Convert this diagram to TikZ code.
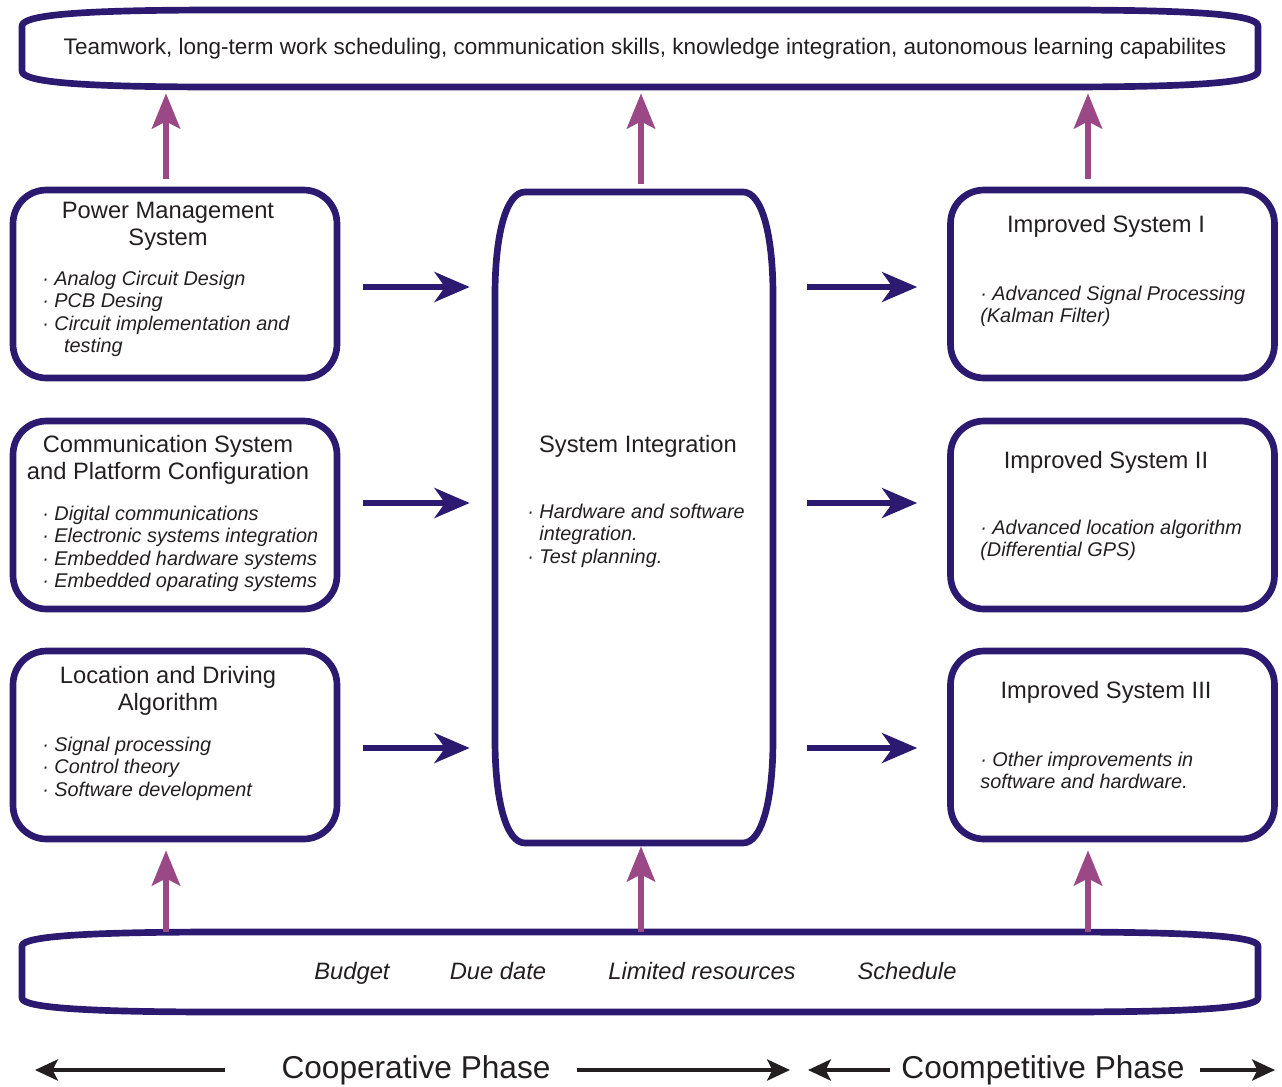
\documentclass[tikz,border=0pt]{standalone}
\usepackage{fontspec}
\setmainfont{Liberation Sans}
\definecolor{navyline}{HTML}{2C1A70}
\definecolor{plumarrow}{HTML}{9B4886}
\definecolor{inkgray}{HTML}{231F20}
\usetikzlibrary{arrows.meta, calc}

\begin{document}
\begin{tikzpicture}[x=0.02cm, y=-0.02cm,
    every node/.style={font=\fontsize{13.5}{15.3}\selectfont, text=inkgray, inner sep=0pt},
    box/.style={rectangle, draw=navyline, line width=3.8pt, rounded corners=19pt,
                minimum width=6.48cm, minimum height=3.76cm},
    frame/.style={draw=navyline, line width=3.8pt, line join=round},
    title/.style={align=center, anchor=base},
    items/.style={align=left, anchor=base west,
                  font=\fontsize{11.3}{12.75}\selectfont\itshape},
    limit/.style={anchor=base, font=\fontsize{13.5}{15.3}\selectfont\itshape},
    phasetext/.style={anchor=base, font=\fontsize{18}{20}\selectfont},
    sideways/.style={-{Stealth[length=20pt, width=17pt, inset=6pt]}, navyline, line width=3.4pt},
    upwards/.style={-{Stealth[length=20pt, width=16pt, inset=4pt]}, plumarrow, line width=3.2pt},
    phase/.style={-{Stealth[length=13pt, width=12pt, inset=3pt]}, inkgray, line width=2.3pt},
]
\useasboundingbox (0,0) rectangle (1282,1086);

% Skills bar on top, constraints bar at the bottom
\draw[frame] (22,26) .. controls (22,14) and (90,10) .. (220,10) -- (1060,10)
    .. controls (1190,10) and (1258,14) .. (1258,26) -- (1258,71)
    .. controls (1258,83) and (1190,87) .. (1060,87) -- (220,87)
    .. controls (90,87) and (22,83) .. (22,71) -- cycle;
\node[minimum width=24.72cm, minimum height=1.54cm, font=\fontsize{12.8}{15}\selectfont]
    (goals) at (645,48.5)
    {Teamwork, long-term work scheduling, communication skills, knowledge integration, autonomous learning capabilites};

\draw[frame] (22,946) .. controls (22,936) and (90,932) .. (220,932) -- (1060,932)
    .. controls (1190,932) and (1258,936) .. (1258,946) -- (1258,998)
    .. controls (1258,1008) and (1190,1012) .. (1060,1012) -- (220,1012)
    .. controls (90,1012) and (22,1008) .. (22,998) -- cycle;
\node[minimum width=24.72cm, minimum height=1.6cm] (limits) at (640,972) {};
\node[limit] (budget) at (352,979) {Budget};
\node[limit] (duedate) at (498,979) {Due date};
\node[limit] (resources) at (702,979) {Limited resources};
\node[limit] (schedule) at (907,979) {Schedule};

% Central integration block
\draw[frame] (525,192) -- (743,192) .. controls (762,192) and (773,235) .. (773,295)
    -- (773,740) .. controls (773,800) and (762,843) .. (743,843) -- (525,843)
    .. controls (506,843) and (495,800) .. (495,740) -- (495,295)
    .. controls (495,235) and (506,192) .. (525,192) -- cycle;
\node[minimum width=5.56cm, minimum height=13.02cm] (integ) at (634,517.5) {};
\node[title] (integt) at (638,452) {System Integration};
\node[items] (integi) at (527,563)
    {· Hardware and software\\\phantom{· }integration.\\· Test planning.};

% Cooperative phase subsystems (base = last line)
\node[box] (power) at (175,284) {};
\node[box] (comms) at (175,515) {};
\node[box] (drive) at (175,745) {};
\node[title] (powert) at (168,245) {Power Management\\System};
\node[title] (commst) at (168,479) {Communication System\\and Platform Configuration};
\node[title] (drivet) at (168,710) {Location and Driving\\Algorithm};
\node[items] (poweri) at (42,352.5)
    {· Analog Circuit Design\\· PCB Desing\\· Circuit implementation and\\\hspace*{1.1em}testing};
\node[items] (commsi) at (42,587.5)
    {· Digital communications\\· Electronic systems integration\\· Embedded hardware systems\\· Embedded oparating systems};
\node[items] (drivei) at (42,796)
    {· Signal processing\\· Control theory\\· Software development};

% Competitive phase improvements
\node[box] (impI) at (1112.5,284) {};
\node[box] (impII) at (1112.5,515) {};
\node[box] (impIII) at (1112.5,745) {};
\node[title] (impIt) at (1106,232) {Improved System I};
\node[title] (impIIt) at (1106,468) {Improved System II};
\node[title] (impIIIt) at (1106,698) {Improved System III};
\node[items] (impIi) at (980,322.5) {· Advanced Signal Processing\\(Kalman Filter)};
\node[items] (impIIi) at (980,556.5) {· Advanced location algorithm\\(Differential GPS)};
\node[items] (impIIIi) at (980,788.5) {· Other improvements in\\software and hardware.};

% Flow between the columns
\foreach \l/\r/\y in {power/impI/287, comms/impII/503, drive/impIII/748} {
    \draw[sideways, shorten <=0.46cm, shorten >=0.5cm] (\l.east |- 0,\y) -- (integ.west |- 0,\y);
    \draw[sideways, shorten <=0.68cm, shorten >=0.6cm] (integ.east |- 0,\y) -- (\r.west |- 0,\y);
}

% Up into the skills, up from the constraints
\foreach \b/\x in {power/166, integ/641, impI/1088}
    \draw[upwards, shorten <=0.15cm, shorten >=0.12cm] (\b.north -| \x,0) -- (goals.south -| \x,0);
\foreach \b/\x/\s in {drive/166/0.16, integ/641/0.06, impIII/1088/0.16}
    \draw[upwards, shorten >=\s cm] (limits.north -| \x,0) -- (\b.south -| \x,0);

% Phase labels
\node[phasetext] (coop) at (416,1078) {Cooperative Phase};
\node[phasetext] (comp) at (1043,1078) {Coompetitive Phase};
\coordinate (coopL) at (35,1070);
\coordinate (coopR) at (790,1070);
\coordinate (compL) at (808,1070);
\coordinate (compR) at (1275,1070);
\draw[phase, shorten <=1.12cm] (coop.west |- coopL) -- (coopL);
\draw[phase, shorten <=0.52cm] (coop.east |- coopR) -- (coopR);
\draw[phase, shorten <=0.22cm] (comp.west |- compL) -- (compL);
\draw[phase, shorten <=0.3cm] (comp.east |- compR) -- (compR);

\end{tikzpicture}
\end{document}
